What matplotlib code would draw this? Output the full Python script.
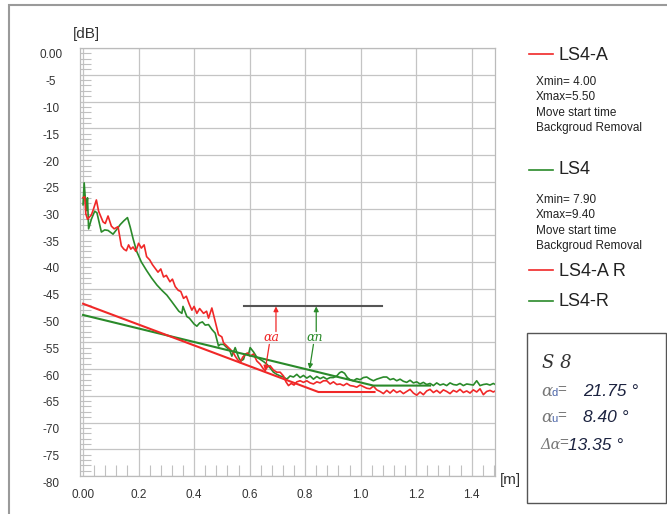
import matplotlib
matplotlib.use('Agg')
import matplotlib.pyplot as plt
from matplotlib.patches import Rectangle
from matplotlib.lines import Line2D
from matplotlib.transforms import ScaledTranslation

plt.rcParams['font.family'] = ['Liberation Sans', 'DejaVu Sans']

# LS4-A (red) measured curve
red_x = [0.000, 0.006, 0.010, 0.016, 0.023, 0.030, 0.037, 0.048, 0.056, 0.064,
         0.072, 0.080, 0.090, 0.102, 0.112, 0.126, 0.138, 0.147, 0.156, 0.164,
         0.172, 0.180, 0.190, 0.200, 0.210, 0.220, 0.229, 0.240, 0.250, 0.260,
         0.270, 0.280, 0.290, 0.300, 0.313, 0.322, 0.332, 0.343, 0.352, 0.362,
         0.372, 0.382, 0.392, 0.400, 0.410, 0.420, 0.434, 0.445, 0.452, 0.464,
         0.476, 0.488, 0.500, 0.506, 0.518, 0.530, 0.542, 0.548, 0.556, 0.566,
         0.575, 0.584, 0.592, 0.602, 0.614, 0.626, 0.638, 0.650, 0.656, 0.664,
         0.674, 0.686, 0.698, 0.710, 0.722, 0.731, 0.740, 0.750, 0.760, 0.770,
         0.782, 0.794, 0.806, 0.818, 0.830, 0.842, 0.854, 0.866, 0.878, 0.890,
         0.902, 0.914, 0.926, 0.938, 0.950, 0.962, 0.974, 0.986, 0.998, 1.010,
         1.022, 1.034, 1.046, 1.058, 1.070, 1.082, 1.094, 1.106, 1.118, 1.130,
         1.142, 1.154, 1.166, 1.178, 1.190, 1.202, 1.214, 1.226, 1.238, 1.250,
         1.262, 1.274, 1.286, 1.298, 1.310, 1.322, 1.334, 1.346, 1.358, 1.370,
         1.382, 1.394, 1.406, 1.418, 1.430, 1.442, 1.454, 1.466, 1.478, 1.485]
red_y = [-28.0, -27.8, -31.0, -32.0, -31.6, -31.2, -30.2, -28.4, -30.5, -31.5,
         -32.5, -32.8, -31.4, -33.3, -33.8, -33.4, -37.0, -37.6, -37.9, -36.8,
         -37.6, -37.2, -38.0, -36.5, -37.4, -36.8, -39.0, -39.6, -40.5, -41.2,
         -41.9, -41.3, -42.8, -42.5, -43.7, -43.2, -44.6, -45.3, -45.5, -46.8,
         -46.4, -47.8, -49.0, -48.3, -49.6, -48.7, -49.6, -49.2, -50.5, -48.6,
         -51.1, -53.6, -54.0, -55.1, -55.7, -56.3, -57.0, -57.6, -58.2, -58.8,
         -57.8, -57.3, -57.0, -57.6, -57.2, -58.5, -59.1, -60.0, -60.3, -59.6,
         -59.4, -60.2, -60.6, -60.6, -61.3, -62.4, -63.1, -62.7, -63.0, -62.4,
         -62.2, -62.5, -62.2, -62.6, -62.8, -62.4, -62.6, -62.2, -62.2, -62.8,
         -62.4, -62.9, -62.8, -63.1, -62.7, -63.1, -63.2, -63.4, -63.0, -63.3,
         -63.6, -63.7, -63.2, -63.9, -64.2, -64.6, -64.0, -64.5, -63.9, -64.4,
         -64.1, -64.6, -64.2, -63.8, -64.5, -64.9, -64.3, -64.8, -64.1, -63.8,
         -64.4, -64.0, -64.5, -63.9, -64.2, -64.6, -64.0, -64.3, -63.8, -64.4,
         -64.1, -64.5, -63.9, -64.3, -63.7, -64.8, -64.2, -64.0, -64.3, -64.1]

# LS4 (green) measured curve
green_x = [0.000, 0.004, 0.008, 0.012, 0.016, 0.020, 0.030, 0.042, 0.050, 0.058,
           0.066, 0.078, 0.090, 0.100, 0.108, 0.120, 0.134, 0.147, 0.160, 0.170,
           0.180, 0.193, 0.210, 0.229, 0.247, 0.266, 0.284, 0.302, 0.318, 0.332,
           0.345, 0.356, 0.360, 0.374, 0.383, 0.392, 0.400, 0.410, 0.420, 0.430,
           0.440, 0.452, 0.464, 0.476, 0.488, 0.494, 0.506, 0.518, 0.527, 0.536,
           0.548, 0.560, 0.568, 0.578, 0.584, 0.596, 0.602, 0.614, 0.626, 0.638,
           0.650, 0.662, 0.674, 0.686, 0.698, 0.710, 0.722, 0.734, 0.746, 0.758,
           0.770, 0.782, 0.794, 0.806, 0.818, 0.830, 0.842, 0.854, 0.866, 0.878,
           0.890, 0.902, 0.914, 0.924, 0.932, 0.942, 0.952, 0.962, 0.974, 0.986,
           0.998, 1.010, 1.022, 1.034, 1.046, 1.058, 1.070, 1.082, 1.094, 1.106,
           1.118, 1.130, 1.142, 1.154, 1.166, 1.178, 1.190, 1.202, 1.214, 1.226,
           1.238, 1.250, 1.262, 1.274, 1.286, 1.298, 1.310, 1.322, 1.334, 1.346,
           1.358, 1.370, 1.382, 1.394, 1.406, 1.418, 1.430, 1.442, 1.454, 1.466,
           1.478, 1.485]
green_y = [-29.3, -25.2, -28.0, -30.4, -28.0, -33.8, -32.0, -30.5, -30.8, -32.6,
           -34.4, -34.0, -34.1, -34.5, -34.8, -34.0, -33.0, -32.3, -31.7, -33.5,
           -35.6, -38.0, -40.0, -41.6, -43.0, -44.3, -45.3, -46.2, -47.3, -48.3,
           -49.2, -49.6, -48.3, -50.2, -50.5, -51.1, -51.6, -52.0, -51.4, -51.2,
           -51.8, -51.7, -52.6, -53.3, -55.7, -55.4, -55.4, -56.0, -56.3, -57.6,
           -56.0, -57.8, -58.5, -58.2, -57.2, -57.3, -56.0, -56.8, -57.8, -58.2,
           -58.6, -59.1, -59.8, -60.6, -61.0, -61.3, -61.5, -61.9, -61.3, -61.5,
           -61.0, -61.6, -61.2, -61.7, -61.3, -61.9, -61.4, -61.8, -61.5, -61.9,
           -61.6, -61.6, -61.3, -60.7, -60.5, -60.8, -61.6, -62.0, -62.2, -61.8,
           -62.0, -61.6, -61.5, -61.9, -62.2, -61.9, -61.7, -61.5, -61.5, -62.0,
           -61.8, -62.2, -61.9, -62.3, -62.5, -62.1, -62.6, -62.4, -62.8, -62.5,
           -62.9, -62.7, -63.1, -62.6, -63.0, -62.8, -63.1, -62.6, -62.9, -63.0,
           -62.7, -63.1, -62.8, -62.9, -63.0, -62.2, -63.1, -62.9, -62.8, -63.0,
           -62.7, -62.9]

# regression lines
red_fit_x = [0.0, 0.848, 1.05]
red_fit_y = [-47.8, -64.3, -64.3]
green_fit_x = [0.0, 1.046, 1.25]
green_fit_y = [-49.9, -63.1, -63.1]

# reference level
ref_x = [0.578, 1.076]
ref_y = [-48.2, -48.2]

y_ticks = [0, -5, -10, -15, -20, -25, -30, -35, -40, -45, -50, -55, -60, -65, -70, -75, -80]
y_labels = ['0.00'] + [str(v) for v in y_ticks[1:]]
x_ticks = [0.0, 0.2, 0.4, 0.6, 0.8, 1.0, 1.2, 1.4]
x_labels = ['0.00', '0.2', '0.4', '0.6', '0.8', '1.0', '1.2', '1.4']

RED = '#f02828'
GREEN = '#2a8a2a'
TXT = '#333333'

fig = plt.figure(figsize=(6.67, 5.14), dpi=100)
ax = fig.add_axes([80 / 667, 1 - 476 / 514, 415 / 667, 428 / 514])

ax.plot(green_x, green_y, color=GREEN, lw=1.2)
ax.plot(red_x, red_y, color=RED, lw=1.2)
ax.plot(green_fit_x, green_fit_y, color=GREEN, lw=1.5)
ax.plot(red_fit_x, red_fit_y, color=RED, lw=1.5)
ax.plot(ref_x, ref_y, color='#555555', lw=1.5)

arrow = dict(arrowstyle='-|>', lw=0.9, mutation_scale=7, shrinkA=0, shrinkB=0)
ax.annotate('', xy=(0.695, -48.3), xytext=(0.695, -53.0), arrowprops=dict(arrow, color=RED))
ax.annotate('', xy=(0.656, -60.3), xytext=(0.671, -55.4), arrowprops=dict(arrow, color=RED))
ax.annotate('', xy=(0.840, -48.3), xytext=(0.840, -53.0), arrowprops=dict(arrow, color=GREEN))
ax.annotate('', xy=(0.816, -60.0), xytext=(0.830, -55.4), arrowprops=dict(arrow, color=GREEN))
ax.text(0.680, -54.2, 'αa', color=RED, fontsize=9, style='italic',
        family='DejaVu Serif', ha='center', va='center')
ax.text(0.836, -54.2, 'αn', color=GREEN, fontsize=9, style='italic',
        family='DejaVu Serif', ha='center', va='center')

ax.set_xlim(-0.011, 1.484)
ax.set_ylim(-80, 0)
ax.set_xticks(x_ticks)
ax.set_xticklabels(x_labels)
ax.set_yticks(y_ticks)
ax.set_yticklabels(y_labels)
ax.set_xticks([i * 0.04 for i in range(38)], minor=True)
ax.set_yticks([-i for i in range(80)], minor=True)
ax.tick_params(which='major', length=0, labelsize=8.5, labelcolor=TXT)
ax.tick_params(axis='y', which='major', pad=21)
ax.tick_params(axis='x', which='major', pad=9)
ax.tick_params(which='minor', direction='in', length=8, color='#c0c0c0', width=0.8)
for lbl in ax.get_yticklabels():
    lbl.set_ha('center')
    lbl.set_transform(lbl.get_transform() + ScaledTranslation(0, -0.06, fig.dpi_scale_trans))
ax.grid(True, which='major', color='#c4c4c4', lw=0.9)
for s in ax.spines.values():
    s.set_color('#bbbbbb')
    s.set_linewidth(0.9)

fig.text(86 / 667, 1 - 34 / 514, '[dB]', fontsize=11, color=TXT, ha='center', va='center')
fig.text(510 / 667, 1 - 480 / 514, '[m]', fontsize=11, color=TXT, ha='center', va='center')

# legend on the right
def leg_line(y, color):
    fig.add_artist(Line2D([529 / 667, 553 / 667], [1 - y / 514, 1 - y / 514], color=color, lw=1.2))

def ftext(x, y, s, size):
    fig.text(x / 667, 1 - y / 514, s, fontsize=size, color='#222222', ha='left', va='center')

leg_line(54, RED)
ftext(559, 55, 'LS4-A', 13)
for i, s in enumerate(['Xmin= 4.00', 'Xmax=5.50', 'Move start time', 'Backgroud Removal']):
    ftext(536, 82 + i * 15.3, s, 8.5)
leg_line(170, GREEN)
ftext(559, 170, 'LS4', 13)
for i, s in enumerate(['Xmin= 7.90', 'Xmax=9.40', 'Move start time', 'Backgroud Removal']):
    ftext(536, 200 + i * 15.3, s, 8.5)
leg_line(270, RED)
ftext(559, 271, 'LS4-A R', 13)
leg_line(301, GREEN)
ftext(559, 302, 'LS4-R', 13)

# result box
fig.add_artist(Rectangle((527 / 667, 1 - 503 / 514), 139 / 667, 170 / 514,
                         fill=False, edgecolor='#555555', lw=1.0, transform=fig.transFigure))
NUM = '#1c2340'
fig.text(542 / 667, 1 - 363 / 514, 'S 8', fontsize=13, style='italic', family='DejaVu Serif',
         color='#333333', va='center')
rows = [(392, 'α', 'd', '21.75 °'), (418, 'α', 'u', '8.40 °')]
for y, g, sub, val in rows:
    fig.text(541 / 667, 1 - y / 514, g, fontsize=12, style='italic', family='DejaVu Serif',
             color='#777777', va='center')
    fig.text(551 / 667, 1 - (y + 1) / 514, sub, fontsize=8, color='#4a64a8', va='center')
    fig.text(557 / 667, 1 - (y - 2) / 514, '=', fontsize=11, color='#777777', va='center')
    fig.text(583 / 667, 1 - y / 514, val, fontsize=12.5, style='italic', color=NUM, va='center')
fig.text(540 / 667, 1 - 445 / 514, 'Δα', fontsize=10.5, style='italic', family='DejaVu Serif',
         color='#777777', va='center')
fig.text(559 / 667, 1 - 443 / 514, '=', fontsize=11, color='#777777', va='center')
fig.text(568 / 667, 1 - 445 / 514, '13.35 °', fontsize=12.5, style='italic', color=NUM, va='center')

# outer frame
fig.add_artist(Rectangle((9 / 667, -0.1), 1.0, 1.1 - 5 / 514, fill=False,
                         edgecolor='#9a9a9a', lw=1.5, transform=fig.transFigure))

fig.savefig('out.png', dpi=100)
